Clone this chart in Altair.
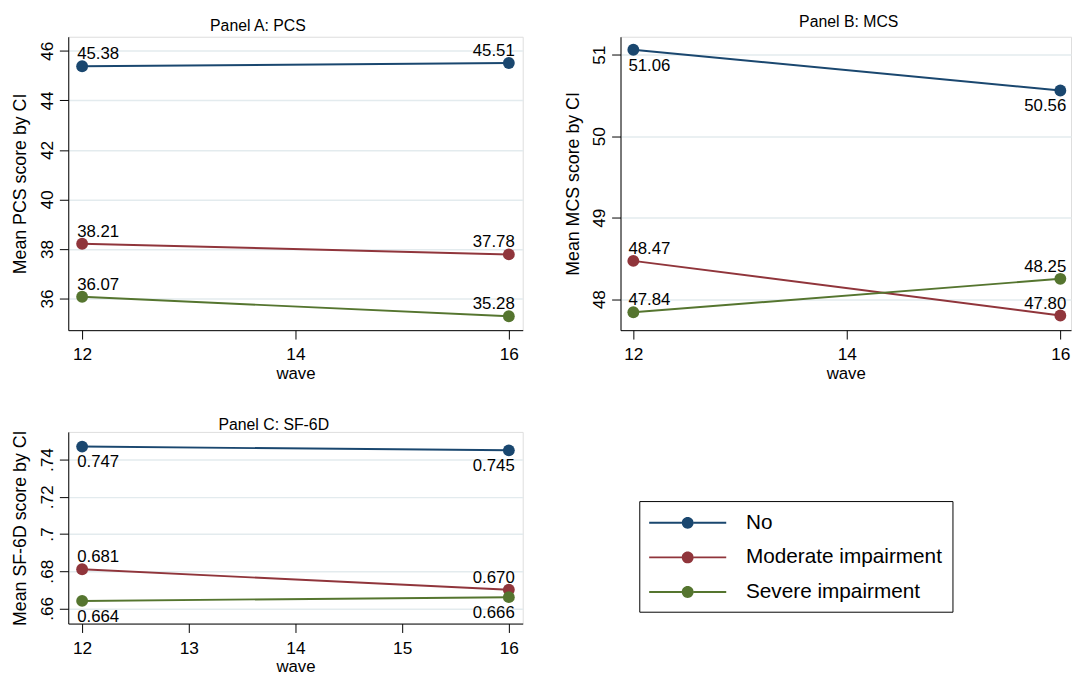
import altair as alt
import pandas as pd

FONT = "Liberation Sans"

waves = [12, 16]
groups = ["No", "Moderate impairment", "Severe impairment"]
colors = ["#1a476f", "#90353b", "#55752f"]

# Panel A: PCS
pcs_no = [45.38, 45.51]
pcs_mod = [38.21, 37.78]
pcs_sev = [36.07, 35.28]
pcs_pos = [["above", "above"], ["above", "above"], ["above", "above"]]

# Panel B: MCS
mcs_no = [51.06, 50.56]
mcs_mod = [48.47, 47.80]
mcs_sev = [47.84, 48.25]
mcs_pos = [["below", "below"], ["above", "above"], ["above", "above"]]

# Panel C: SF-6D
sf_no = [0.747, 0.745]
sf_mod = [0.681, 0.670]
sf_sev = [0.664, 0.666]
sf_pos = [["below", "below"], ["above", "above"], ["below", "below"]]

pcs_yticks = [36, 38, 40, 42, 44, 46]
mcs_yticks = [48, 49, 50, 51]
sf_yticks = [0.66, 0.68, 0.70, 0.72, 0.74]
ab_xticks = [12, 14, 16]
c_xticks = [12, 13, 14, 15, 16]


def make_df(series, positions, decimals):
    rows = []
    for g, vals, poss in zip(groups, series, positions):
        for w, v, p in zip(waves, vals, poss):
            rows.append({
                "wave": w, "group": g, "value": v,
                "label": f"{v:.{decimals}f}", "pos": p,
                "side": "left" if w == waves[0] else "right",
            })
    return pd.DataFrame(rows)


df_a = make_df([pcs_no, pcs_mod, pcs_sev], pcs_pos, 2)
df_b = make_df([mcs_no, mcs_mod, mcs_sev], mcs_pos, 2)
df_c = make_df([sf_no, sf_mod, sf_sev], sf_pos, 3)

# legend key: a line with a dot in the middle (unit = half of sqrt(symbolSize))
LEG_PATH = ("M-3.25,-0.0833H-0.5V0.0833H-3.25Z M0.5,-0.0833H3.25V0.0833H0.5Z "
            "M-0.5,0A0.5,0.5,0,1,1,0.5,0A0.5,0.5,0,1,1,-0.5,0Z")


def panel(df, title, title_dx, title_offset, ytitle, ydomain, yticks, xdomain,
          xticks, width, height, ylabel_expr=None, legend=None):
    yaxis_kw = dict(values=yticks, title=ytitle, grid=True, gridColor="#e3ebee",
                    gridWidth=1.5, domainColor="black", tickColor="black",
                    tickSize=9, labelAngle=270, labelAlign="center",
                    labelBaseline="alphabetic", labelPadding=7, labelFontSize=17.5,
                    labelFont=FONT, labelColor="black", titleFont=FONT,
                    titleFontSize=18, titleFontWeight="normal", titleColor="black",
                    titlePadding=9, labelFlush=False, labelOverlap=False)
    if ylabel_expr:
        yaxis_kw["labelExpr"] = ylabel_expr
    x = alt.X("wave:Q", scale=alt.Scale(domain=xdomain, nice=False, zero=False),
              axis=alt.Axis(values=xticks, title="wave", grid=False, format="d",
                            domainColor="black", tickColor="black", tickSize=9,
                            labelPadding=7, labelFontSize=17.5, labelFont=FONT,
                            labelColor="black", titleFont=FONT, titleFontSize=17,
                            titleFontWeight="normal", titleColor="black",
                            titlePadding=2, labelFlush=False, labelOverlap=False))
    y = alt.Y("value:Q", scale=alt.Scale(domain=ydomain, nice=False, zero=False),
              axis=alt.Axis(**yaxis_kw))
    cscale = alt.Scale(domain=groups, range=colors)
    base = alt.Chart(df)
    layers = []
    for g, c in zip(groups, colors):
        layers.append(
            base.transform_filter(alt.datum.group == g)
            .mark_line(strokeWidth=2, color=c)
            .encode(x=x, y=y)
        )
    pts = base.mark_circle(size=144, opacity=1).encode(
        x=x, y=y, color=alt.Color("group:N", scale=cscale, legend=legend))
    layers.append(pts)
    for pos in ["above", "below"]:
        for side in ["left", "right"]:
            t = base.transform_filter(
                (alt.datum.pos == pos) & (alt.datum.side == side)
            ).mark_text(
                align="left" if side == "left" else "right",
                baseline="alphabetic",
                dx=-5 if side == "left" else 6,
                dy=-7 if pos == "above" else 21,
                fontSize=17, font=FONT, color="black",
            ).encode(x=x, y=y, text="label:N")
            layers.append(t)
    return alt.layer(*layers).properties(
        width=width, height=height,
        title=alt.TitleParams(title, fontSize=16, font=FONT, fontWeight="normal",
                              color="black", anchor="middle", frame="group",
                              dx=title_dx, offset=title_offset,
                              baseline="alphabetic"),
    )


legend_c = alt.Legend(
    title=None, orient="none", legendX=578, legendY=70,
    symbolType=LEG_PATH, symbolSize=576, symbolStrokeWidth=0, symbolOpacity=1,
    symbolOffset=27, labelFontSize=21, labelFont=FONT, labelColor="black",
    labelOffset=47, labelLimit=400, labelExpr="datum.label + '     '",
    padding=10, rowPadding=13, strokeColor="black", fillColor="white",
)

A = panel(df_a, "Panel A: PCS", -38, -10.5, "Mean PCS score by CI",
          [34.72, 46.57], pcs_yticks, [11.87, 16.13], ab_xticks, 460, 297)
B = panel(df_b, "Panel B: MCS", 3, -6, "Mean MCS score by CI",
          [47.62, 51.22], mcs_yticks, [11.88, 16.10], ab_xticks, 456, 297)
C = panel(df_c, "Panel C: SF-6D", -22, -16, "Mean SF-6D score by CI",
          [0.6518, 0.7549], sf_yticks, [11.87, 16.13], c_xticks, 460, 194,
          ylabel_expr="slice(format(datum.value, '.2~f'), 1)", legend=legend_c)

chart = alt.concat(
    A, B, C, columns=2, bounds="flush",
    spacing={"row": 103, "column": 99},
).resolve_scale(color="independent").properties(
    padding={"left": 3, "top": 1, "right": 0, "bottom": 0}
).configure_view(stroke=None).configure(font=FONT, background="white")

chart.save("out.html", embed_options={"renderer": "svg", "actions": False})
